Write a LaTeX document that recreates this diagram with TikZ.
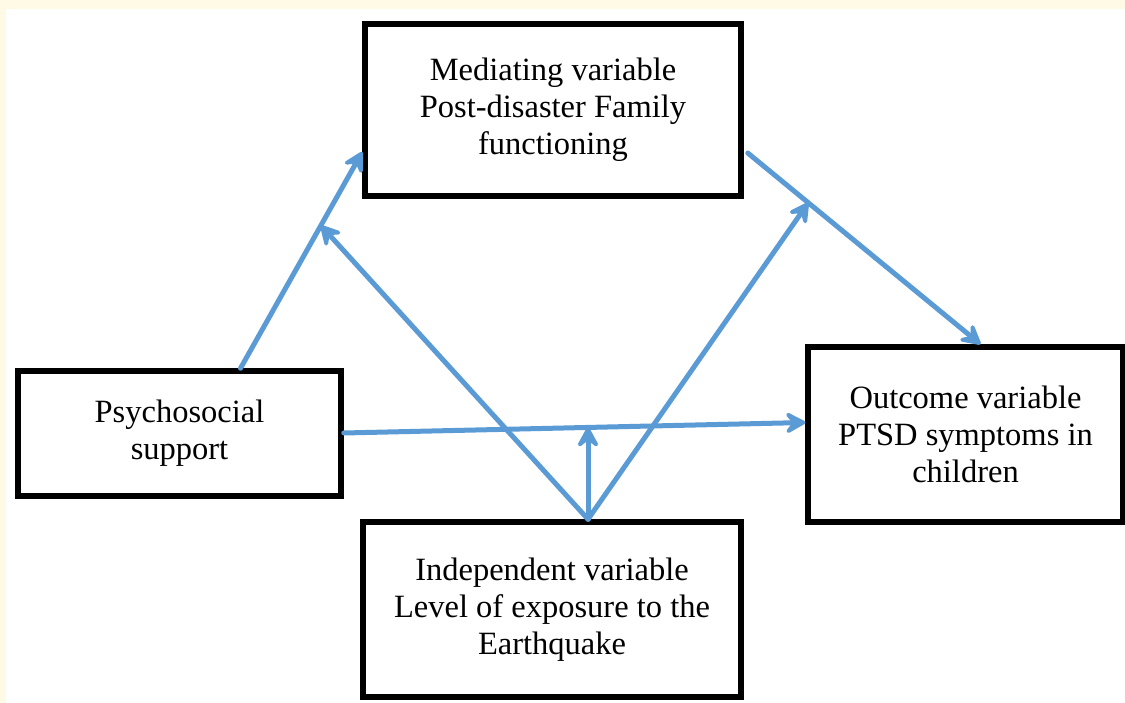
\documentclass[tikz,border=0pt]{standalone}
\usepackage{fontspec}
\setmainfont{Liberation Serif}
\usetikzlibrary{arrows.meta,calc}
\definecolor{cream}{RGB}{255,250,230}
\definecolor{arrowblue}{RGB}{91,155,213}
\tikzset{
  varbox/.style={draw=black, line width=5.5pt, fill=white, align=center,
    font=\rmfamily\fontsize{32.5}{37}\selectfont, inner sep=0pt},
  link/.style={draw=arrowblue, line width=5pt, line cap=round,
    -{Stealth[length=26pt,width=28pt,inset=11pt,round]}}
}
\begin{document}
\begin{tikzpicture}[x=1pt, y=-1pt]
  % Background
  \fill[cream] (0,0) rectangle (1125,703);
  \fill[white] (6,9) rectangle (1125,703);
  \useasboundingbox (0,0) rectangle (1125,703);

  % Variables
  \node[varbox, minimum width=376pt, minimum height=172pt] (med) at (553,110)
    {Mediating variable\\Post-disaster Family\\functioning};
  \node[varbox, minimum width=323pt, minimum height=125pt] (psy) at (179.5,433.5)
    {Psychosocial\\support};
  \node[varbox, minimum width=315pt, minimum height=175pt] (out) at (965.5,434.5)
    {Outcome variable\\PTSD symptoms in\\children};
  \node[varbox, minimum width=378pt, minimum height=175pt] (ind) at (552,609.5)
    {Independent variable\\Level of exposure to the\\Earthquake};

  % Arrow ends
  \coordinate (psyTop) at ([xshift=61pt]psy.north);
  \coordinate (medIn) at ([yshift=-42pt]med.west);
  \coordinate (medOut) at ([xshift=4pt,yshift=-43pt]med.east);
  \coordinate (outTop) at ([xshift=15pt]out.north);
  \coordinate (psyOut) at ([yshift=0.5pt]psy.east);
  \coordinate (outIn) at ([yshift=12pt]out.west);
  \coordinate (indTop) at ([xshift=36pt]ind.north);
  \coordinate (onA) at ($(psyTop)!0.66!(medIn)$);
  \coordinate (onB) at ($(medOut)!0.26!(outTop)$);
  \coordinate (onC) at ($(psyOut)!0.53!(outIn)$);

  % Paths
  \draw[link] (psyTop) -- (medIn);
  \draw[link] (medOut) -- (outTop);
  \draw[link] (psyOut) -- (outIn);
  \draw[link] (indTop) -- (onA);
  \draw[link] (indTop) -- (onB);
  \draw[link] (indTop) -- (indTop |- onC);
\end{tikzpicture}
\end{document}
